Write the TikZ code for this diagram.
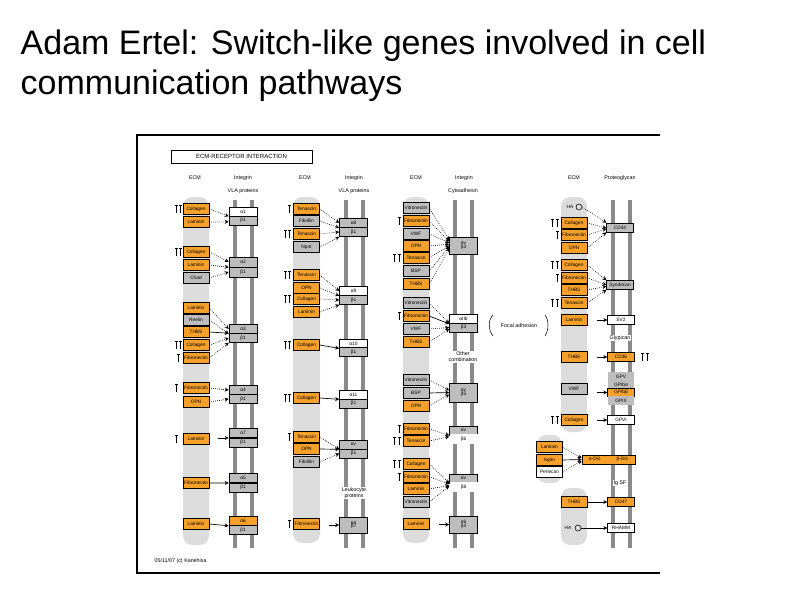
\documentclass[tikz,border=0pt]{standalone}
\usepackage{fontspec}
\setmainfont{Liberation Sans}
\usetikzlibrary{arrows.meta,calc}
\definecolor{kor}{HTML}{F5A02A}
\definecolor{kgr}{HTML}{BDBDBD}
\definecolor{kcol}{HTML}{DCDCDC}
\definecolor{kln}{HTML}{8A8A8A}
\tikzset{
 tf/.style={font=\fontsize{3.6}{4}\selectfont},
 it/.style={tf,draw,line width=0.4pt,minimum width=19.5pt,minimum height=8pt,inner sep=0pt},
 eo/.style={it,fill=kor},
 eg/.style={it,fill=kgr},
 ew/.style={it,fill=white},
 rc/.style={tf,draw,line width=0.4pt,minimum width=21pt,minimum height=6.8pt,inner sep=0pt},
 ro/.style={rc,fill=kor}, rg/.style={rc,fill=kgr}, rw/.style={rc,fill=white},
 col/.style={fill=kcol,rounded corners=7pt},
 il/.style={kln,line width=2.6pt},
 da/.style={densely dotted,line width=0.5pt,-{Stealth[length=3pt,width=3pt]}},
 sa/.style={line width=0.5pt,-{Stealth[length=3pt,width=3pt]}},
 hd/.style={font=\fontsize{4}{4.5}\selectfont,align=center},
}
\newcommand\mk[2]{\draw[line width=0.7pt] (#1,#2-3.5)--(#1,#2+3.5) (#1-1.5,#2-3.5)--(#1+1.5,#2-3.5);}
\begin{document}
\begin{tikzpicture}[x=0.75pt,y=-0.75pt]
\useasboundingbox (0,0) rectangle (800,600);
\node[anchor=west,font=\fontsize{25.5}{30}\selectfont,align=left] (title) at (16,66) {Adam Ertel: Switch-like genes involved in cell\\communication pathways};
% frame
\draw[line width=0.8pt] (660,135) -- (137,135) -- (137,573) -- (660,573);
\node[draw,line width=0.6pt,minimum width=105.75pt,minimum height=9.75pt,inner sep=0pt,font=\fontsize{4.5}{5}\selectfont] (hdr) at (241.5,156.5) {ECM-RECEPTOR INTERACTION};
% columns
\fill[col] (183,197) rectangle (209,545);
\fill[col] (293,197) rectangle (320,543);
\fill[col] (403,197) rectangle (429,543);
\fill[col] (561,197) rectangle (587,432);
\fill[col] (537,435) rectangle (562,483);
\fill[col] (561,488) rectangle (587,545);
% integrin lines
\foreach \x in {235,252,346,363,455,472,613,630} \draw[il] (\x,200) -- (\x,548);
% headers
\node[hd] (h1) at (195,178) {ECM};
\node[hd] (h2) at (243,178) {Integrin};
\node[hd] (h3) at (305,178) {ECM};
\node[hd] (h4) at (354,178) {Integrin};
\node[hd] (h5) at (416,178) {ECM};
\node[hd] (h6) at (464,178) {Integrin};
\node[hd] (h7) at (574,178) {ECM};
\node[hd] (h8) at (620,178) {Proteoglycan};
\node[hd,fill=white,inner sep=0.5pt] (s1) at (243,191) {VLA proteins};
\node[hd,fill=white,inner sep=0.5pt] (s2) at (354,191) {VLA proteins};
\node[hd,fill=white,inner sep=0.5pt] (s3) at (463,191) {Cytoadhesin};
\node[hd,fill=white,inner sep=0.5pt] (s4) at (463,357) {Other\\combination};
\node[hd,fill=white,inner sep=0.5pt] (s5) at (354,493) {Leukocyte\\proteins};
\node[hd,fill=white,inner sep=0.5pt] (s6) at (620,338) {Glypican};
\node[hd,fill=white,inner sep=0.5pt] (s7) at (620,483) {Ig SF};
\node[hd,anchor=west] (ft) at (150,561) {05/11/07 (c) Kanehisa};
% ---------- group 1
\node[eo] (a1) at (196,209) {Collagen};
\node[eo] (a2) at (196,222) {Laminin};
\node[eo] (a3) at (196,252) {Collagen};
\node[eo] (a4) at (196,265) {Laminin};
\node[eg] (a5) at (196,278) {Chad};
\node[eo] (a6) at (196,308) {Laminin};
\node[eg] (a7) at (196,320) {Reelin};
\node[eo] (a8) at (196,332) {THBS};
\node[eo] (a9) at (196,345) {Collagen};
\node[eo] (a10) at (196,358) {Fibronectin};
\node[eo] (a11) at (196,388) {Fibronectin};
\node[eo] (a12) at (196,402) {OPN};
\node[eo] (a13) at (196,439) {Laminin};
\node[eo] (a14) at (196,483) {Fibronectin};
\node[eo] (a15) at (196,524) {Laminin};
\node[rw] (r1a) at (243,211.5) {α1}; \node[rg] (r1b) at (243,220.5) {β1};
\node[rg,minimum height=7.5pt] (r2a) at (243,262) {α2}; \node[rg,minimum height=7.5pt] (r2b) at (243,272) {β1};
\node[rg] (r3a) at (243,329) {α3}; \node[rg] (r3b) at (243,338) {β1};
\node[rg] (r4a) at (243,390) {α4}; \node[rg] (r4b) at (243,399) {β1};
\node[rg,minimum height=7pt] (r5a) at (243,433) {α7}; \node[rg,minimum height=7pt] (r5b) at (243,442.5) {β1};
\node[rg,minimum height=7pt] (r6a) at (243,478) {α5}; \node[rg,minimum height=7pt] (r6b) at (243,487.5) {β1};
\node[ro] (r7a) at (243,521) {α6}; \node[rg] (r7b) at (243,530) {β1};
\draw[da] (a1.east) -- (r1a.south west);
\draw[da] (a2.east) -- ([yshift=-1pt]r1b.west);
\draw[da] (a3.east) -- (r2a.west);
\draw[da] (a4.east) -- (r2a.south west);
\draw[da] (a5.east) -- (r2b.west);
\draw[da] (a6.east) -- (r3a.west);
\draw[da] (a7.east) -- (r3a.south west);
\draw[sa] (a8.east) -- (r3b.north west);
\draw[da] (a9.east) -- (r3b.west);
\draw[da] (a10.east) -- (r3b.south west);
\draw[da] (a11.east) -- (r4a.west);
\draw[da] (a12.east) -- (r4b.west);
\draw[sa] ([xshift=-8pt]r5a.south west) -- (r5a.south west);
\draw[sa] (a14.east) -- (r6a.south west);
\draw[sa] (a15.east) -- (r7a.south west);
\mk{176}{209}\mk{180}{209}\mk{176}{252}\mk{180}{252}\mk{176}{345}\mk{180}{345}\mk{178}{358}\mk{176}{388}\mk{176}{439}
% ---------- group 2
\node[eo] (b1) at (306.5,209) {Tenascin};
\node[eg] (b2) at (306.5,221) {Fibrillin};
\node[eo] (b3) at (306.5,234) {Tenascin};
\node[eg] (b4) at (306.5,247) {Npnt};
\node[eo] (b5) at (306.5,275) {Tenascin};
\node[eo] (b6) at (306.5,288) {OPN};
\node[eo] (b7) at (306.5,299) {Collagen};
\node[eo] (b8) at (306.5,312) {Laminin};
\node[eo] (b9) at (306.5,345) {Collagen};
\node[eo] (b10) at (306.5,398) {Collagen};
\node[eo] (b11) at (306.5,437) {Tenascin};
\node[eo] (b12) at (306.5,449) {OPN};
\node[eg] (b13) at (306.5,462) {Fibrillin};
\node[eo] (b14) at (306.5,524) {Fibronectin};
\node[rg] (r8a) at (353.5,223) {α8}; \node[rg] (r8b) at (353.5,232) {β1};
\node[rw] (r9a) at (353.5,291) {α9}; \node[rg] (r9b) at (353.5,300) {β1};
\node[rw] (r10a) at (353.5,343.5) {α10}; \node[rg] (r10b) at (353.5,352) {β1};
\node[rw] (r11a) at (353.5,394.5) {α11}; \node[rg] (r11b) at (353.5,403.5) {β1};
\node[rg] (r12a) at (353.5,444.5) {αv}; \node[rg] (r12b) at (353.5,453.5) {β1};
\node[rg,minimum height=12pt,align=center] (r13) at (353.5,525) {α4\\[-1.5pt]β7};
\draw[da] (b1.east) -- (r8a.west);
\draw[da] (b2.east) -- (r8a.south west);
\draw[da] (b3.east) -- (r8b.west);
\draw[da] (b4.east) -- (r8b.south west);
\draw[da] (b5.east) -- (r9a.west);
\draw[da] (b6.east) -- (r9a.south west);
\draw[da] (b7.east) -- (r9b.west);
\draw[da] (b8.east) -- (r9b.south west);
\draw[sa] (b9.east) -- (r10a.south west);
\draw[sa] (b10.east) -- (r11a.south west);
\draw[da] (b11.east) -- (r12a.south west);
\draw[sa] (b12.east) -- (r12a.south west);
\draw[da] (b13.east) -- (r12b.west);
\draw[sa] ([xshift=-8pt]r13.west) -- (r13.west);
\mk{289}{209}\mk{285}{234}\mk{289}{234}\mk{285}{275}\mk{289}{275}\mk{285}{299}\mk{289}{299}\mk{285}{345}\mk{289}{345}\mk{285}{398}\mk{289}{398}\mk{289}{437}\mk{289}{524}
% ---------- group 3
\node[eg] (c1) at (416,208) {Vitronectin};
\node[eo] (c2) at (416,221) {Fibronectin};
\node[eg] (c3) at (416,234) {VWF};
\node[eo] (c4) at (416,246) {OPN};
\node[eo] (c5) at (416,258) {Tenascin};
\node[eg] (c6) at (416,271) {BSP};
\node[eo] (c7) at (416,284) {THBS};
\node[eg] (c8) at (416,303) {Vitronectin};
\node[eo] (c9) at (416,316) {Fibronectin};
\node[eg] (c10) at (416,329) {VWF};
\node[eo] (c11) at (416,342) {THBS};
\node[eg] (c12) at (416,380) {Vitronectin};
\node[eg] (c13) at (416,393) {BSP};
\node[eo] (c14) at (416,406) {OPN};
\node[eo] (c15) at (416,429) {Fibronectin};
\node[eo] (c16) at (416,441) {Tenascin};
\node[eo] (c17) at (416,464) {Collagen};
\node[eo] (c18) at (416,477) {Fibronectin};
\node[eo] (c19) at (416,489) {Laminin};
\node[eg] (c20) at (416,502) {Vitronectin};
\node[eo] (c21) at (416,524) {Laminin};
\node[rg,minimum height=12.75pt,align=center] (r14) at (463.5,245.5) {αv\\[-1pt]β3};
\node[rw] (r15a) at (463.5,318.5) {αIIb}; \node[rg] (r15b) at (463.5,327.5) {β3};
\node[rg,minimum height=14pt,align=center] (r16) at (463.5,392.5) {αv\\[-1pt]β5};
\node[rg] (r17a) at (463.5,430.5) {αv}; \node[rw,draw=none] (r17b) at (463.5,439) {β6};
\node[rg] (r18a) at (463.5,478.5) {αv}; \node[rw,draw=none] (r18b) at (463.5,487) {β8};
\node[rg,minimum height=12.75pt,align=center] (r19) at (463.5,524.5) {α6\\[-1pt]β4};
\foreach \c/\s in {c1/4,c2/3,c3/2,c4/1,c5/0,c6/-1,c7/-2} \draw[da] (\c.east) -- ([yshift=\s pt]r14.west);
\draw[da] (c8.east) -- (r15a.south west);
\draw[sa] (c9.east) -- ([yshift=-0.5pt]r15a.south west);
\draw[da] (c10.east) -- (r15b.west);
\draw[da] (c11.east) -- ([yshift=-1pt]r15b.west);
\draw[da] (c12.east) -- ([yshift=1.5pt]r16.west);
\draw[sa] (c13.east) -- (r16.west);
\draw[da] (c14.east) -- ([yshift=-1.5pt]r16.west);
\draw[da] (c15.east) -- (r17a.south west);
\draw[da] (c16.east) -- ([yshift=-1pt]r17a.south west);
\draw[da] (c17.east) -- (r18a.south west);
\draw[da] (c18.east) -- ([yshift=-0.5pt]r18a.south west);
\draw[da] (c19.east) -- ([yshift=-1.5pt]r18a.south west);
\draw[da] (c20.east) -- ([yshift=-2pt]r18a.south west);
\draw[sa] ([xshift=-8pt]r19.west) -- (r19.west);
\mk{399}{221}\mk{394}{258}\mk{399}{258}\mk{399}{316}\mk{399}{429}\mk{394}{441}\mk{399}{441}\mk{394}{464}\mk{399}{464}\mk{399}{477}
% Focal adhesion bracket
\draw[line width=0.4pt] (493,315) .. controls (488,320) and (488,330) .. (493,336);
\draw[line width=0.4pt] (545,315) .. controls (549,320) and (549,330) .. (545,336);
\node[hd] (fa) at (519,325.5) {Focal adhesion};
% ---------- group 4
\node[tf] (ha1) at (570,207) {HA};
\draw[line width=0.4pt] (579,207) circle (3);
\coordinate (ha1e) at (582,207);
\node[eo] (d2) at (574,223) {Collagen};
\node[eo] (d3) at (574,235) {Fibronectin};
\node[eo] (d4) at (574,248) {OPN};
\node[eo] (d5) at (574,265) {Collagen};
\node[eo] (d6) at (574,278) {Fibronectin};
\node[eo] (d7) at (574,290) {THBS};
\node[eo] (d8) at (574,303) {Tenascin};
\node[eo] (d9) at (574,320) {Laminin};
\node[eo] (d10) at (574,357) {THBS};
\node[eg] (d11) at (574,389) {VWF};
\node[eo] (d12) at (574,420) {Collagen};
\node[eo] (d13) at (549.5,447) {Laminin};
\node[eo] (d14) at (549.5,460) {Agrin};
\node[ew] (d15) at (549.5,472) {Perlecan};
\node[eo] (d16) at (574,502) {THBS};
\node[tf] (ha2) at (568,528) {HA};
\draw[line width=0.4pt] (578,528) circle (3);
\coordinate (ha2e) at (581,528);
\node[rg,minimum width=20pt] (p1) at (620,227.5) {CD44};
\node[rg,minimum width=20pt] (p2) at (620,285) {Syndecan};
\node[rw,minimum width=20pt] (p3) at (621,320) {SV2};
\node[ro,minimum width=20pt] (p4) at (621,357) {CD36};
\node[rg,minimum width=20pt,minimum height=6.2pt,draw=none] (p5a) at (621,376.5) {GPV};
\node[rg,minimum width=20pt,minimum height=6.2pt,draw=none] (p5b) at (621,384.5) {GPIbα};
\node[ro,minimum width=20pt,minimum height=6.2pt] (p5c) at (621,392.5) {GPIbβ};
\node[rg,minimum width=20pt,minimum height=6.2pt,draw=none] (p5d) at (621,400.5) {GPIX};
\node[rw,minimum width=20pt] (p6) at (621,420) {GPVI};
\node[ro,minimum width=39.75pt] (p7) at (608.5,459.5) {α-DG\hspace{12pt}β-DG};
\node[ro,minimum width=20pt] (p8) at (621,502) {CD47};
\node[rw,minimum width=20pt] (p9) at (621,528) {RHAMM};
\draw[da] (ha1e) -- (p1.north west);
\draw[da] (d2.east) -- ([yshift=-0.5pt]p1.west);
\draw[da] (d3.east) -- ([yshift=-1pt]p1.west);
\draw[da] (d4.east) -- (p1.south west);
\draw[da] (d5.east) -- (p2.north west);
\draw[da] (d6.east) -- (p2.west);
\draw[da] (d7.east) -- ([yshift=-1pt]p2.west);
\draw[da] (d8.east) -- (p2.south west);
\draw[sa] ([xshift=-8pt]p3.west) -- (p3.west);
\draw[sa] ([xshift=-8pt]p4.west) -- (p4.west);
\draw[sa] ([xshift=-8pt]p5c.west) -- (p5c.west);
\draw[sa] ([xshift=-8pt]p6.west) -- (p6.west);
\draw[da] (d13.east) -- ([yshift=1pt]p7.west);
\draw[sa] (d14.east) -- (p7.west);
\draw[da] (d15.east) -- ([yshift=-1pt]p7.west);
\draw[sa] (d16.east) -- (p8.west);
\draw[sa] (ha2e) -- (p9.west);
\mk{552}{223}\mk{557}{223}\mk{557}{235}\mk{552}{265}\mk{557}{265}\mk{557}{278}\mk{552}{303}\mk{557}{303}\mk{642}{357}\mk{647}{357}\mk{552}{420}\mk{557}{420}
\end{tikzpicture}
\end{document}
